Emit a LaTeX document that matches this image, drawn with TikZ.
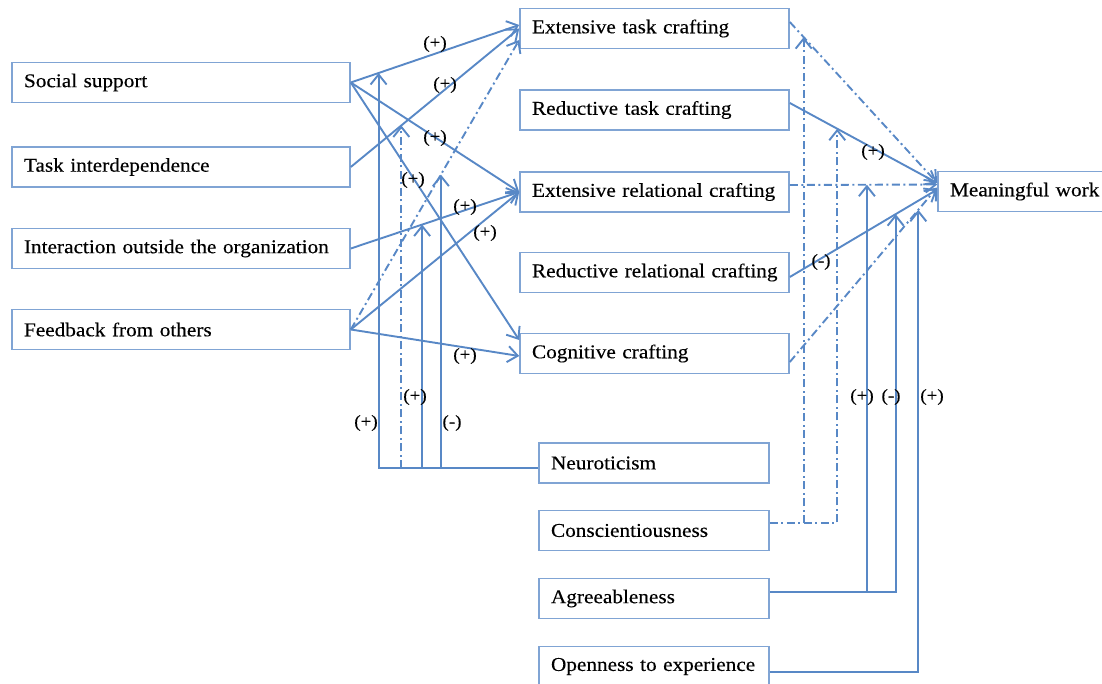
\documentclass[tikz,border=0pt]{standalone}
\usepackage{fontspec}
\setmainfont{Liberation Serif}[FakeStretch=1.09,FakeBold=0.3]
\usetikzlibrary{arrows.meta,calc}
\definecolor{edgeblue}{RGB}{88,136,198}
\definecolor{boxblue}{RGB}{128,164,212}
% one unbroken line of text, left-aligned inside the box
\newcommand\boxline[1]{\makebox[\linewidth][l]{#1}}
\begin{document}
\begin{tikzpicture}[x=1pt,y=-1pt,
  box/.style={draw=boxblue,line width=1.6pt,fill=white,minimum height=40pt,
    inner xsep=12pt,inner ysep=0pt,align=left,font=\fontsize{19.5}{22}\selectfont},
  lbox/.style={box,text width=314pt},
  mbox/.style={box,text width=245pt},
  bbox/.style={box,text width=206pt},
  conn/.style={draw=edgeblue,line width=1.9pt,
    -{Straight Barb[length=10pt,width=16pt,line width=1.9pt]}},
  dd/.style={dash pattern=on 8pt off 3.5pt on 2pt off 3.5pt},
  sign/.style={font=\fontsize{17.5}{19}\selectfont,inner sep=0pt}]
\useasboundingbox (0,0) rectangle (1102,684);

% antecedents
\node[lbox] (ss) at (181,82.5) {\boxline{Social support}};
\node[lbox] (ti) at (181,167) {\boxline{Task interdependence}};
\node[lbox] (io) at (181,248.5) {\boxline{Interaction outside the organization}};
\node[lbox] (fb) at (181,329.5) {\boxline{Feedback from others}};

% job crafting forms
\node[mbox] (etc) at (654.5,28.5) {\boxline{Extensive task crafting}};
\node[mbox] (rtc) at (654.5,110) {\boxline{Reductive task crafting}};
\node[mbox] (erc) at (654.5,192) {\boxline{Extensive relational crafting}};
\node[mbox] (rrc) at (654.5,272.5) {\boxline{Reductive relational crafting}};
\node[mbox] (cc) at (654.5,353.5) {\boxline{Cognitive crafting}};

% outcome
\node[box,text width=150pt] (mw) at (1025,191.5) {\boxline{Meaningful work}};

% personality moderators
\node[bbox] (neu) at (654,463) {\boxline{Neuroticism}};
\node[bbox] (con) at (654,530.5) {\boxline{Conscientiousness}};
\node[bbox] (agr) at (654,598.5) {\boxline{Agreeableness}};
\node[bbox] (ope) at (654,666.5) {\boxline{Openness to experience}};

% end points on the box sides
\coordinate (etcA) at ($(etc.west)+(0,-3.5)$);
\coordinate (etcB) at ($(etc.west)+(0,11.5)$);
\coordinate (ccA) at ($(cc.west)+(0,-13.5)$);
\coordinate (ccB) at ($(cc.west)+(0,2.5)$);
\coordinate (etcO) at ($(etc.east)+(0,-6.5)$);
\coordinate (rtcO) at ($(rtc.east)+(0,-7)$);
\coordinate (ercO) at ($(erc.east)+(0,-7)$);
\coordinate (rrcO) at ($(rrc.east)+(0,4.5)$);
\coordinate (ccO) at ($(cc.east)+(0,8.5)$);
\coordinate (mwA) at ($(mw.west)+(0,-8.5)$);
\coordinate (mwB) at ($(mw.west)+(0,-7)$);
\coordinate (mwC) at ($(mw.west)+(0,-2)$);
\coordinate (mwD) at ($(mw.west)+(0,-4)$);

% antecedents -> crafting
\draw[conn] (ss.east) -- (etcA);
\draw[conn] (ti.east) -- (etc.west);
\draw[conn,dd] (fb.east) -- (etcB);
\draw[conn] (ss.east) -- (erc.west);
\draw[conn] (ss.east) -- (ccA);
\draw[conn] (io.east) -- (erc.west);
\draw[conn] (fb.east) -- (erc.west);
\draw[conn] (fb.east) -- (ccB);

% crafting -> meaningful work
\draw[conn,dd] (etcO) -- (mwA);
\draw[conn] (rtcO) -- (mwA);
\draw[conn,dd] (ercO) -- (mwB);
\draw[conn] (rrcO) -- (mwC);
\draw[conn,dd] (ccO) -- (mwD);

% points where the moderating arrows meet the paths
\coordinate (n1) at ($(ss.east)!0.165!(etcA)$);
\coordinate (n2) at ($(ti.east)!0.3!(etc.west)$);
\coordinate (n3) at ($(io.east)!0.4235!(erc.west)$);
\coordinate (n4) at ($(fb.east)!0.535!(etcB)$);
\coordinate (c1) at ($(etcO)!0.094!(mwA)$);
\coordinate (c2) at ($(rtcO)!0.322!(mwA)$);
\coordinate (a1) at ($(ercO)!0.523!(mwB)$);
\coordinate (a2) at ($(rrcO)!0.718!(mwC)$);
\coordinate (o1) at ($(ccO)!0.872!(mwD)$);

% neuroticism
\coordinate (neuL) at ($(neu.west)+(0,5)$);
\draw[conn] (neuL) -| (n1);
\draw[conn,dd] (n2 |- neuL) -- (n2);
\draw[conn] (n3 |- neuL) -- (n3);
\draw[conn] (n4 |- neuL) -- (n4);

% conscientiousness
\coordinate (conR) at ($(con.east)+(0,-7.5)$);
\draw[conn,dd] (conR) -| (c2);
\draw[conn,dd] (c1 |- conR) -- (c1);

% agreeableness
\coordinate (agrR) at ($(agr.east)+(0,-6.5)$);
\draw[conn] (agrR) -| (a2);
\draw[conn] (a1 |- agrR) -- (a1);

% openness
\coordinate (opeR) at ($(ope.east)+(0,5.5)$);
\draw[conn] (opeR) -| (o1);

% signs of the effects
\node[sign] (s1) at (435,44) {(+)};
\node[sign] (s2) at (445,85) {(+)};
\node[sign] (s3) at (435,138) {(+)};
\node[sign] (s4) at (413,180) {(+)};
\node[sign] (s5) at (465,207) {(+)};
\node[sign] (s6) at (485,233) {(+)};
\node[sign] (s7) at (465,356) {(+)};
\node[sign] (s8) at (366,423) {(+)};
\node[sign] (s9) at (415,397) {(+)};
\node[sign] (s10) at (452,423) {(-)};
\node[sign] (s11) at (873,152) {(+)};
\node[sign] (s12) at (821,262) {(-)};
\node[sign] (s13) at (862,397) {(+)};
\node[sign] (s14) at (891,397) {(-)};
\node[sign] (s15) at (932,397) {(+)};
\end{tikzpicture}
\end{document}
